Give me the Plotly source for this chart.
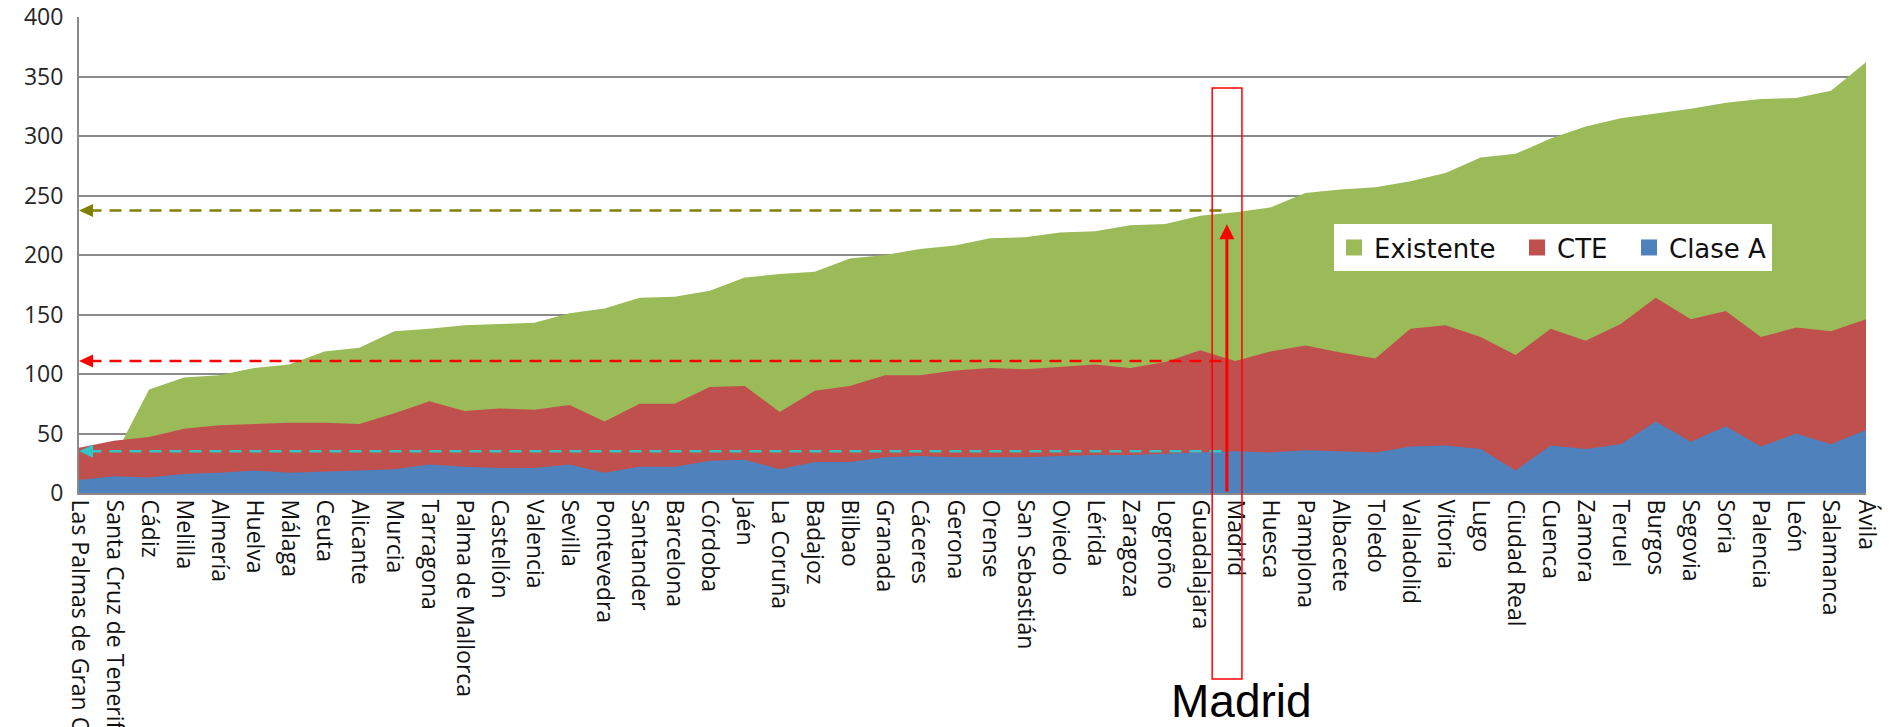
import plotly.graph_objects as go

# Provincial capitals, ordered by the existing-building value
cities = [
    "Las Palmas de Gran Canaria", "Santa Cruz de Tenerife", "Cádiz", "Melilla", "Almería",
    "Huelva", "Málaga", "Ceuta", "Alicante", "Murcia", "Tarragona", "Palma de Mallorca",
    "Castellón", "Valencia", "Sevilla", "Pontevedra", "Santander", "Barcelona", "Córdoba",
    "Jaén", "La Coruña", "Badajoz", "Bilbao", "Granada", "Cáceres", "Gerona", "Orense",
    "San Sebastián", "Oviedo", "Lérida", "Zaragoza", "Logroño", "Guadalajara", "Madrid",
    "Huesca", "Pamplona", "Albacete", "Toledo", "Valladolid", "Vitoria", "Lugo",
    "Ciudad Real", "Cuenca", "Zamora", "Teruel", "Burgos", "Segovia", "Soria", "Palencia",
    "León", "Salamanca", "Ávila",
]

existente = [
    27, 30, 87, 97, 99, 105, 108, 119, 122, 136, 138, 141, 142, 143, 151, 155, 164, 165,
    170, 181, 184, 186, 197, 200, 205, 208, 214, 215, 219, 220, 225, 226, 233, 236, 240,
    252, 255, 257, 262, 269, 282, 285, 298, 308, 315, 319, 323, 328, 331, 332, 338, 362,
]

cte = [
    38, 44, 47, 54, 57, 58, 59, 59, 58, 67, 77, 69, 71, 70, 74, 60, 75, 75, 89, 90, 68,
    86, 90, 99, 99, 103, 105, 104, 106, 108, 105, 110, 120, 111, 119, 124, 118, 113, 138,
    141, 131, 116, 138, 128, 142, 164, 146, 153, 131, 139, 136, 146,
]

clase_a = [
    11, 14, 13, 16, 17, 19, 17, 18, 19, 20, 24, 22, 21, 21, 24, 17, 22, 22, 27, 28, 20,
    26, 26, 30, 31, 30, 30, 30, 31, 32, 32, 33, 34, 35, 34, 36, 35, 34, 39, 40, 37, 19,
    40, 37, 41, 60, 43, 56, 39, 50, 41, 53,
]

y_ticks = [0, 50, 100, 150, 200, 250, 300, 350, 400]

GREEN = "#9bbb59"
RED = "#c0504d"
BLUE = "#4f81bd"
GRID = "#8a8a8a"
NBSP = "\u00a0"

x = list(range(len(cities)))
series = [
    ("Existente", existente, GREEN),
    ("CTE", cte, RED),
    ("Clase A", clase_a, BLUE),
]

fig = go.Figure()
for name, values, color in series:
    fig.add_trace(go.Scatter(
        x=x, y=values, name=name, mode="lines", fill="tozeroy",
        line=dict(width=0, color=color), fillcolor=color,
        hoverinfo="x+y+name", showlegend=False, legendgroup=name,
    ))
# Square legend keys for the three areas (padded labels for wider item spacing)
for i, (name, values, color) in enumerate(series):
    label = name + (NBSP * 2 if i < len(series) - 1 else "")
    fig.add_trace(go.Scatter(
        x=[None], y=[None], name=label, mode="markers", legendgroup=name,
        marker=dict(symbol="square", size=19, color=color), showlegend=True,
        hoverinfo="skip",
    ))

# Highlight for Madrid: guide lines from its three values back to the y axis
madrid = cities.index("Madrid")
mx = madrid - 0.24
guides = [
    (existente[madrid] + 1.5, "#808000"),
    (cte[madrid], "#ff0000"),
    (clase_a[madrid], "#33c6c6"),
]
shapes = []
for val, col in guides:
    shapes.append(dict(
        type="line", xref="x", yref="y", x0=0.3, x1=mx, y0=val, y1=val,
        line=dict(color=col, width=2.5, dash="12px,8px"),
    ))
    shapes.append(dict(
        type="path", xref="x", yref="y", xsizemode="pixel", ysizemode="pixel",
        xanchor=0, yanchor=val, path="M 0 0 L 14 6.5 L 14 -6.5 Z",
        fillcolor=col, line=dict(width=0),
    ))

# Frame round the Madrid column and its label
plot_top, plot_bottom = 17, 493
ph = plot_bottom - plot_top
shapes.append(dict(
    type="rect", xref="x", yref="paper",
    x0=madrid - 0.66, x1=madrid + 0.19,
    y0=(plot_bottom - 679) / ph, y1=(plot_bottom - 88) / ph,
    line=dict(color="#ff0000", width=1.5), fillcolor="rgba(0,0,0,0)",
))

annotations = [
    dict(
        x=mx, y=existente[madrid], xref="x", yref="y",
        ax=mx, ay=0, axref="x", ayref="y", text="",
        showarrow=True, arrowhead=2, arrowsize=1, arrowwidth=3,
        arrowcolor="#ff0000", standoff=12,
    ),
    dict(
        x=madrid + 0.19, y=(plot_bottom - 701) / ph, xref="x", yref="paper",
        text="Madrid", showarrow=False, xanchor="center", yanchor="middle",
        font=dict(family="Liberation Sans", size=46, color="#000000"),
    ),
]

fig.update_layout(
    width=1890, height=727,
    margin=dict(l=79, r=24, t=plot_top, b=727 - plot_bottom, autoexpand=False),
    paper_bgcolor="white", plot_bgcolor="white",
    shapes=shapes, annotations=annotations,
    showlegend=True,
    legend=dict(
        orientation="h", x=0.7023, y=0.565, xanchor="left", yanchor="top",
        bgcolor="white", borderwidth=0, itemwidth=30, itemsizing="trace",
        font=dict(family="DejaVu Sans", size=26, color="#111111"),
    ),
    xaxis=dict(
        range=[0, len(cities) - 1], tickvals=x, ticktext=cities, tickangle=90,
        showgrid=False, zeroline=False, showline=True, linecolor=GRID, linewidth=2,
        ticks="", automargin=False,
        tickfont=dict(family="Open Sans", size=23, color="#111111"),
    ),
    yaxis=dict(
        range=[0, 400], tickvals=y_ticks, showgrid=True, gridcolor=GRID, gridwidth=2,
        zeroline=False, showline=True, linecolor=GRID, linewidth=2, ticks="",
        ticklabelstandoff=9, automargin=False,
        tickfont=dict(family="Open Sans", size=23, color="#262626"),
    ),
)

fig.write_html("out.html")
